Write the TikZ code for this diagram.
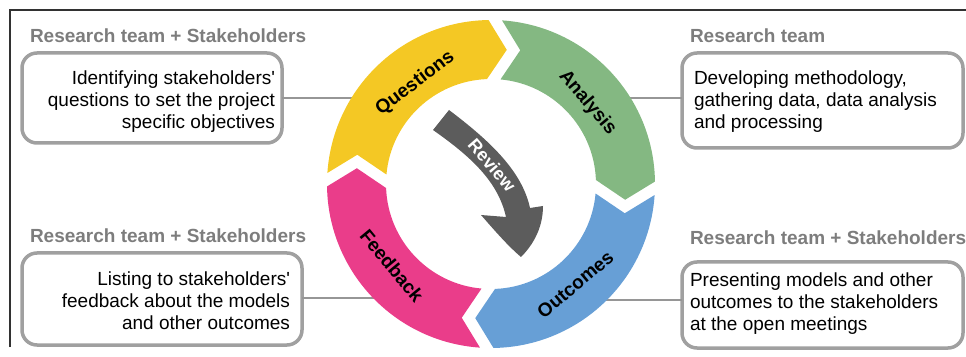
\documentclass[tikz,border=0pt]{standalone}
\usepackage{fontspec}
\setmainfont{Liberation Sans}
\definecolor{qyellow}{RGB}{244,200,36}
\definecolor{agreen}{RGB}{132,184,130}
\definecolor{oblue}{RGB}{103,159,214}
\definecolor{fpink}{RGB}{234,61,138}
\definecolor{revgray}{RGB}{92,92,92}
\definecolor{rolegray}{RGB}{125,125,125}
\definecolor{boxgray}{RGB}{160,160,160}
\definecolor{linkgray}{RGB}{150,150,150}
\definecolor{framegray}{RGB}{50,50,50}
\begin{document}
\begin{tikzpicture}[x=1pt,y=1pt,
  every node/.style={inner sep=0pt, outer sep=0pt},
  infobox/.style={draw=boxgray, line width=3.5pt, rounded corners=15pt, fill=white},
  infotext/.style={font=\fontsize{19}{22}\selectfont, text=black},
  role/.style={font=\fontsize{19}{22}\selectfont\bfseries, text=rolegray, anchor=base west},
  stage/.style={font=\fontsize{19}{22}\selectfont\bfseries, text=black},
  reviewtext/.style={font=\fontsize{18}{22}\selectfont\bfseries, text=white},
  link/.style={draw=linkgray, line width=1.5pt},
  frame/.style={draw=framegray, line width=1.5pt}]
\useasboundingbox (0,0) rectangle (966,356);

% page frame (top and left rules)
\draw[frame] (10,9) -- (10,346) -- (966,346);

% description boxes
\node[infobox, minimum width=260pt, minimum height=90pt] (qbox) at (152,258) {};
\node[infobox, minimum width=281pt, minimum height=95pt] (abox) at (822.5,255.5) {};
\node[infobox, minimum width=280pt, minimum height=92pt] (fbox) at (162,57) {};
\node[infobox, minimum width=281pt, minimum height=86pt] (obox) at (822.5,51) {};

% who is involved at each stage
\node[role] (qrole) at (30,313) {Research team + Stakeholders};
\node[role] (arole) at (690,313) {Research team};
\node[role] (frole) at (30,113) {Research team + Stakeholders};
\node[role] (orole) at (690,111) {Research team + Stakeholders};

% box texts
\node[infotext, anchor=north east, align=right] (qtext) at (275,285)
  {\rule{0pt}{14pt}Identifying stakeholders\textquotesingle\\questions to set the project\\specific objectives};
\node[infotext, anchor=north west, align=left] (atext) at (694,285)
  {\rule{0pt}{14pt}Developing methodology,\\gathering data, data analysis\\and processing};
\node[infotext, anchor=north east, align=right] (ftext) at (290,85)
  {\rule{0pt}{14pt}Listing to stakeholders\textquotesingle\\feedback about the models\\and other outcomes};
\node[infotext, anchor=north west, align=left] (otext) at (690,83)
  {\rule{0pt}{14pt}Presenting models and other\\outcomes to the stakeholders\\at the open meetings};

% connector ends, tucked under the ring
\coordinate (qend) at (358,258);
\coordinate (aend) at (624,258);
\coordinate (fend) at (380,58);
\coordinate (oend) at (600,56);
\draw[link] (qbox.east |- qend) -- (qend);
\draw[link] (abox.west |- aend) -- (aend);
\draw[link] (fbox.east |- fend) -- (fend);
\draw[link] (obox.west |- oend) -- (oend);

% the cycle: four chevron-ended ring segments, clockwise
\begin{scope}[shift={(491,172)}]
  \foreach \a/\b/\col in {178.5/88.5/qyellow, 88.5/-1.5/agreen, -1.5/-91.5/oblue, -91.5/-181.5/fpink}{
    \fill[\col] ({\a-2.36}:164pt) arc[start angle={\a-2.36}, end angle={\b+2.36}, radius=164pt]
      -- ({\b-5.2}:135.06pt) -- ({\b+3.69}:105pt)
      arc[start angle={\b+3.69}, end angle={\a-3.69}, radius=105pt]
      -- ({\a-10.84}:136.9pt) -- cycle;
  }
  \node[stage, rotate=37] (lq) at (127:126pt) {Questions};
  \node[stage, rotate=-50] (la) at (40:126pt) {Analysis};
  \node[stage, rotate=40] (lo) at (-50:131pt) {Outcomes};
  \node[stage, rotate=-50.4] (lf) at (219.6:128.6pt) {Feedback};
\end{scope}

% review arrow in the middle
\fill[revgray] (433,226) -- (449,246) .. controls (490,215) and (522,185) .. (530,148)
  -- (543,150) .. controls (543,125) and (530,108) .. (521,99)
  .. controls (508,110) and (495,125) .. (481,141)
  -- (506,139) .. controls (498,175) and (470,200) .. (433,226) -- cycle;
\node[reviewtext, rotate=-49] (rv) at (492,191) {Review};
\end{tikzpicture}
\end{document}
